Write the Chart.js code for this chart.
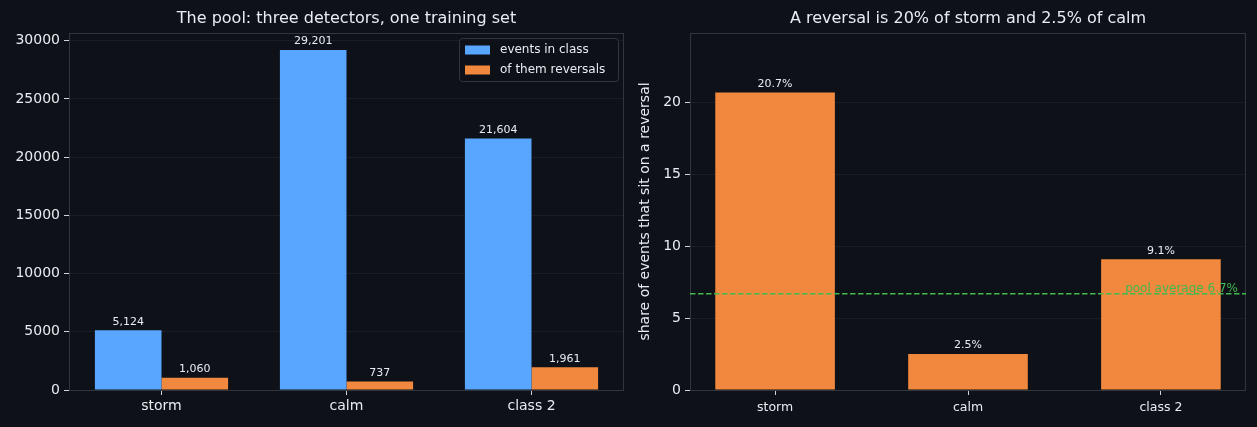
<!DOCTYPE html>
<html><head><meta charset="utf-8">
<script src="https://cdn.jsdelivr.net/npm/chart.js@4"></script>
<style>
html,body{margin:0;padding:0;background:#0e1117;overflow:hidden}
#l{position:absolute;left:0;top:0;width:628px;height:427px}
#r{position:absolute;left:628px;top:0;width:629px;height:427px}
</style></head><body>
<div id="l"><canvas id="c1"></canvas></div>
<div id="r"><canvas id="c2"></canvas></div>
<script>
const categories = ['storm', 'calm', 'class 2'];
const eventsInClass = [5124, 29201, 21604];
const reversals = [1060, 737, 1961];
const reversalShare = [20.7, 2.5, 9.1];
const poolAverage = 6.7;
const leftYTicks = [0, 5000, 10000, 15000, 20000, 25000, 30000];
const rightYTicks = [0, 5, 10, 15, 20];
const rightXTicks = [0, 1, 2];
const seriesLabels = ['events in class', 'of them reversals'];
const leftTitle = 'The pool: three detectors, one training set';
const rightTitle = 'A reversal is 20% of storm and 2.5% of calm';
const rightYLabel = 'share of events that sit on a reversal';
const poolLabel = 'pool average 6.7%';
const leftYMax = 30660;
const rightYMax = 24.84;

const FONT = "'DejaVu Sans', sans-serif";
const TXT = '#e6edf3';
const TICK = '#d0d7de';
const SPINE = '#30363d';
const GRID = '#191e26';
const BLUE = '#58a6ff';
const ORANGE = '#f0883e';
const GREEN = '#3fb950';

Chart.defaults.font.family = FONT;
Chart.defaults.color = TICK;
Chart.defaults.animation = false;

function framePlugin(title) {
  return {
    id: 'frame',
    afterDatasetsDraw(chart) {
      const a = chart.chartArea, ctx = chart.ctx;
      ctx.save();
      ctx.strokeStyle = SPINE;
      ctx.lineWidth = 1;
      ctx.strokeRect(Math.round(a.left) + 0.5, Math.round(a.top) + 0.5,
        Math.round(a.right - a.left) - 1, Math.round(a.bottom - a.top));
      ctx.restore();
    },
    afterDraw(chart) {
      const a = chart.chartArea, ctx = chart.ctx;
      ctx.save();
      ctx.fillStyle = TXT;
      ctx.font = '16px ' + FONT;
      ctx.textAlign = 'center';
      ctx.textBaseline = 'middle';
      ctx.fillText(title, (a.left + a.right) / 2, 19);
      ctx.restore();
    }
  };
}

function labelPlugin(fmt) {
  return {
    id: 'vlabels',
    afterDatasetsDraw(chart) {
      const ctx = chart.ctx;
      ctx.save();
      ctx.fillStyle = TXT;
      ctx.font = '11px ' + FONT;
      ctx.textAlign = 'center';
      ctx.textBaseline = 'bottom';
      chart.data.datasets.forEach((ds, di) => {
        const meta = chart.getDatasetMeta(di);
        meta.data.forEach((el, i) => {
          const v = ds.data[i];
          const val = typeof v === 'object' ? v.y : v;
          ctx.fillText(fmt(val), el.x, el.y - 3);
        });
      });
      ctx.restore();
    }
  };
}

const legendPlugin = {
  id: 'boxlegend',
  afterDraw(chart) {
    const a = chart.chartArea, ctx = chart.ctx;
    const w = 159, h = 43;
    const x = a.right - 6 - w, y = a.top + 5;
    ctx.save();
    ctx.fillStyle = 'rgba(14,17,23,0.85)';
    ctx.strokeStyle = SPINE;
    ctx.lineWidth = 1;
    ctx.beginPath();
    ctx.roundRect(x + 0.5, y + 0.5, w, h, 3);
    ctx.fill();
    ctx.stroke();
    ctx.font = '12px ' + FONT;
    ctx.textBaseline = 'middle';
    ctx.textAlign = 'left';
    chart.data.datasets.forEach((ds, i) => {
      const cy = y + 12 + i * 20;
      ctx.fillStyle = ds.backgroundColor;
      ctx.fillRect(x + 6, cy - 4.5, 25, 9);
      ctx.fillStyle = TXT;
      ctx.fillText(ds.label, x + 41, cy);
    });
    ctx.restore();
  }
};

const poolPlugin = {
  id: 'pool',
  afterDatasetsDraw(chart) {
    const a = chart.chartArea, ctx = chart.ctx;
    const py = chart.scales.y.getPixelForValue(poolAverage);
    ctx.save();
    ctx.strokeStyle = GREEN;
    ctx.lineWidth = 1.5;
    ctx.setLineDash([5.5, 2.5]);
    ctx.beginPath();
    ctx.moveTo(a.left, py);
    ctx.lineTo(a.right, py);
    ctx.stroke();
    ctx.setLineDash([]);
    ctx.fillStyle = GREEN;
    ctx.font = '12px ' + FONT;
    ctx.textAlign = 'right';
    ctx.textBaseline = 'bottom';
    ctx.fillText(poolLabel, a.right - 8, py + 1);
    ctx.restore();
  }
};

new Chart(document.getElementById('c1'), {
  type: 'bar',
  data: {
    labels: categories,
    datasets: [
      { label: seriesLabels[0], data: eventsInClass, backgroundColor: BLUE, borderWidth: 0 },
      { label: seriesLabels[1], data: reversals, backgroundColor: ORANGE, borderWidth: 0 }
    ]
  },
  options: {
    responsive: true,
    maintainAspectRatio: false,
    layout: { padding: { top: 33, right: 4, left: 0, bottom: 0 } },
    datasets: { bar: { categoryPercentage: 0.72, barPercentage: 1.0 } },
    plugins: { legend: { display: false }, tooltip: { enabled: false } },
    scales: {
      x: {
        grid: { offset: false, drawOnChartArea: false, drawTicks: true, tickLength: 5, tickColor: TICK },
        border: { display: false },
        ticks: { color: TXT, font: { size: 14 }, padding: 3 },
        afterFit(s) { s.height = 37; }
      },
      y: {
        min: 0, max: leftYMax,
        grid: { color: GRID, tickLength: 5, tickColor: TICK },
        border: { display: false },
        ticks: { color: TXT, font: { size: 14 }, padding: 4, callback: v => String(v) },
        afterBuildTicks(s) { s.ticks = leftYTicks.map(v => ({ value: v })); },
        afterFit(s) { s.width = 69; }
      }
    }
  },
  plugins: [framePlugin(leftTitle), labelPlugin(v => v.toLocaleString('en-US')), legendPlugin]
});

new Chart(document.getElementById('c2'), {
  type: 'bar',
  data: {
    datasets: [
      { label: 'share', data: reversalShare.map((v, i) => ({ x: i, y: v })), backgroundColor: ORANGE, borderWidth: 0 }
    ]
  },
  options: {
    responsive: true,
    maintainAspectRatio: false,
    layout: { padding: { top: 33, right: 11, left: 0, bottom: 0 } },
    datasets: { bar: { categoryPercentage: 1.0, barPercentage: 0.62 } },
    plugins: { legend: { display: false }, tooltip: { enabled: false } },
    scales: {
      x: {
        type: 'linear', min: -0.441, max: 2.441, offset: false,
        grid: { drawOnChartArea: false, drawTicks: true, tickLength: 5, tickColor: TICK, offset: false },
        border: { display: false },
        ticks: { autoSkip: false, color: TXT, font: { size: 12.5 }, padding: 5,
          callback: v => (categories[v] !== undefined) ? categories[v] : '' },
        afterBuildTicks(s) { s.ticks = rightXTicks.map(v => ({ value: v })); },
        afterFit(s) { s.height = 37; }
      },
      y: {
        min: 0, max: rightYMax,
        grid: { color: GRID, tickLength: 5, tickColor: TICK },
        border: { display: false },
        ticks: { color: TXT, font: { size: 14 }, padding: 4, callback: v => String(v) },
        afterBuildTicks(s) { s.ticks = rightYTicks.map(v => ({ value: v })); },
        title: { display: true, text: rightYLabel, color: TXT, font: { size: 14 }, padding: { top: 9, bottom: 0 } },
        afterFit(s) { s.width = 62; }
      }
    }
  },
  plugins: [framePlugin(rightTitle), labelPlugin(v => v.toFixed(1) + '%'), poolPlugin]
});
</script>
</body></html>
